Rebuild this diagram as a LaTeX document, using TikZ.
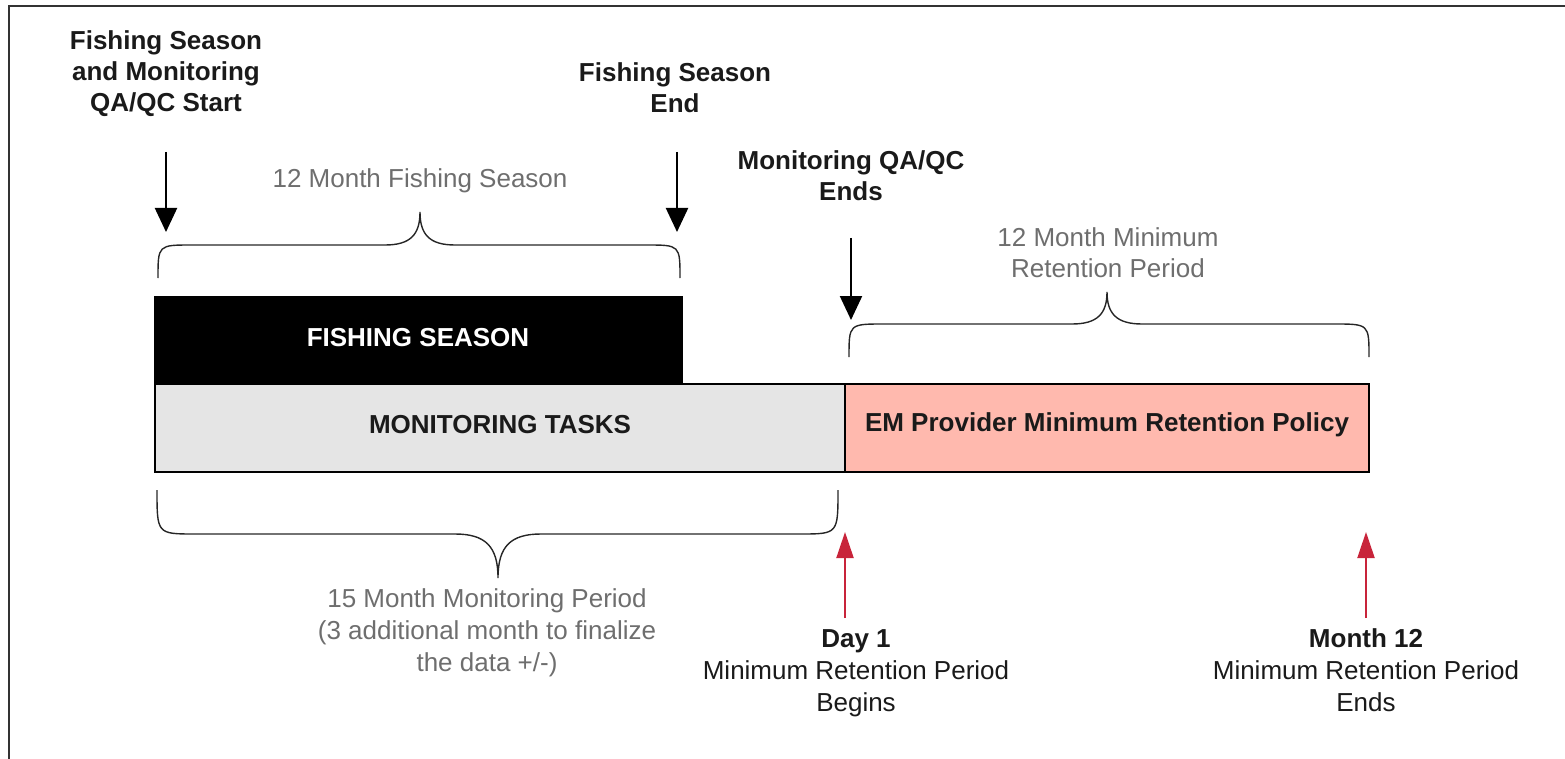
\documentclass[tikz,border=0pt]{standalone}
\usepackage{fontspec}
\setmainfont{Liberation Sans}
\usetikzlibrary{arrows.meta}
\definecolor{frameC}{HTML}{333333}
\definecolor{monFill}{HTML}{E5E5E5}
\definecolor{emFill}{HTML}{FFB9AE}
\definecolor{greyTxt}{HTML}{6E6E6E}
\definecolor{redArr}{HTML}{C8243A}
\definecolor{txtC}{HTML}{1A1A1A}
\tikzset{
  txt/.style={inner sep=0pt, align=center, font=\fontsize{26}{31}\selectfont, text=txtC},
  txtwide/.style={txt, font=\fontsize{26}{32}\selectfont},
  boldtxt/.style={txt, font=\fontsize{26}{31}\selectfont\bfseries},
  greytxt/.style={txt, text=greyTxt},
  bar/.style={draw=black, line width=2pt},
  brc/.style={draw=black!85, line width=1.4pt},
  downarr/.style={draw=black, line width=2.2pt, -{Triangle[length=24pt,width=22pt]}},
  uparr/.style={draw=redArr, line width=2pt, -{Triangle[length=26pt,width=17pt]}},
}
\begin{document}
\begin{tikzpicture}[x=1pt,y=-1pt]
\useasboundingbox (0,0) rectangle (1565,759);
% frame
\draw[frameC, line width=2pt] (9,759) -- (9,6) -- (1565,6);

% bars
\draw[bar, fill=black] (155,297) rectangle (682,384);
\node[boldtxt, text=white] (fs) at (418,338) {FISHING SEASON};
\draw[bar, fill=monFill] (155,384) rectangle (845,472);
\node[boldtxt] (mt) at (500,425) {MONITORING TASKS};
\draw[bar, fill=emFill] (845,384) rectangle (1369,472);
\node[boldtxt] (em) at (1107,425) {EM Provider Minimum Retention Policy};

% top labels
\node[boldtxt] (start) at (166,74) {Fishing Season\\and Monitoring\\QA/QC Start};
\node[boldtxt] (fend) at (675,88) {Fishing Season\\End};
\node[boldtxt] (qend) at (851,176) {Monitoring QA/QC\\Ends};

% down arrows
\coordinate (a1s) at (166,152); \coordinate (a1e) at (166,232);
\coordinate (a2s) at (677,152); \coordinate (a2e) at (677,232);
\coordinate (a3s) at (851,238); \coordinate (a3e) at (851,320);
\draw[downarr] (a1s) -- (a1e);
\draw[downarr] (a2s) -- (a2e);
\draw[downarr] (a3s) -- (a3e);

% brace over fishing season
\draw[brc] (158,278) .. controls (158,245) .. (192,245) -- (385,245)
  .. controls (410,245) and (420,235) .. (420,212)
  .. controls (420,235) and (430,245) .. (455,245) -- (646,245)
  .. controls (680,245) .. (680,278);
\node[greytxt] (l12fs) at (420,181) {12 Month Fishing Season};

% brace over retention
\draw[brc] (849,357) .. controls (849,324) .. (884,324) -- (1072,324)
  .. controls (1097,324) and (1107,314) .. (1107,292)
  .. controls (1107,314) and (1117,324) .. (1142,324) -- (1334,324)
  .. controls (1369,324) .. (1369,357);
\node[greytxt] (l12ret) at (1108,252.5) {12 Month Minimum\\Retention Period};

% brace under monitoring
\draw[brc] (157,490) .. controls (157,534) .. (195,534) -- (455,534)
  .. controls (485,534) and (498,546) .. (498,578)
  .. controls (498,546) and (511,534) .. (541,534) -- (800,534)
  .. controls (838,534) .. (838,490);
\node[greytxt, font=\fontsize{26}{32}\selectfont] (l15) at (487,633) {15 Month Monitoring Period\\(3 additional month to finalize\\the data +/-)};

% red arrows and labels
\coordinate (r1s) at (845,618); \coordinate (r1e) at (845,532);
\coordinate (r2s) at (1366,618); \coordinate (r2e) at (1366,532);
\draw[uparr] (r1s) -- (r1e);
\draw[uparr] (r2s) -- (r2e);
\node[txtwide] (day1) at (856,673) {\textbf{Day 1}\\Minimum Retention Period\\Begins};
\node[txtwide] (m12) at (1366,670) {\textbf{Month 12}\\Minimum Retention Period\\Ends};
\end{tikzpicture}
\end{document}
